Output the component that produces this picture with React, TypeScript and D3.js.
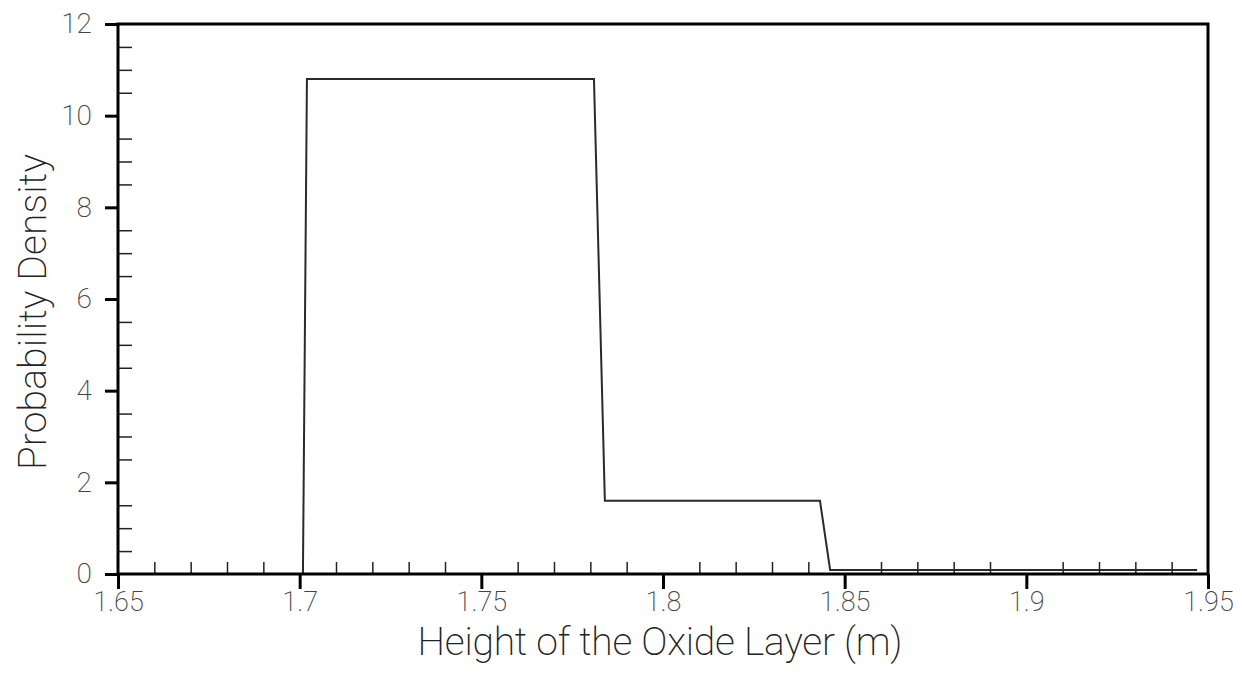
import React, { useRef, useEffect } from 'react';
import * as d3 from 'd3';

// step-shaped density curve
const heights = [1.7009, 1.702, 1.781, 1.784, 1.8432, 1.846, 1.947];
const density = [0, 10.8, 10.8, 1.6, 1.6, 0.09, 0.09];

const xMajor = [1.65, 1.7, 1.75, 1.8, 1.85, 1.9, 1.95];
const xLabels = ['1.65', '1.7', '1.75', '1.8', '1.85', '1.9', '1.95'];
const yMajor = [0, 2, 4, 6, 8, 10, 12];

const FONT = 'Roboto, Inter, sans-serif';

const App = () => {
  const ref = useRef<SVGSVGElement>(null);

  useEffect(() => {
    const svg = d3.select(ref.current);
    svg.selectAll('*').remove();

    const margin = { top: 24, right: 34, bottom: 99, left: 118 };
    const W = 1242, H = 673;
    const width = W - margin.left - margin.right;
    const height = H - margin.top - margin.bottom;

    const g = svg.append('g').attr('transform', `translate(${margin.left},${margin.top})`);

    const x = d3.scaleLinear().domain([1.65, 1.95]).range([0, width]);
    const y = d3.scaleLinear().domain([0, 12]).range([height, 0]);

    const xMinor = d3.range(166, 195).map(d => d / 100).filter(d => Math.round(d * 100) % 5 !== 0);
    const yMinor = d3.range(1, 24).map(d => d / 2).filter(d => d % 2 !== 0);

    const style = (sel: any) => {
      sel.select('.domain').remove();
      sel.selectAll('text')
        .attr('font-family', FONT)
        .attr('font-weight', 200)
        .attr('font-size', 28)
        .attr('fill', '#444');
    };

    // minor ticks pointing inside
    g.append('g')
      .attr('transform', `translate(0,${height})`)
      .call(d3.axisBottom(x).tickValues(xMinor).tickSize(-12).tickFormat(() => ''))
      .call(style)
      .selectAll('line').attr('stroke', '#222').attr('stroke-width', 1.5);

    g.append('g')
      .call(d3.axisLeft(y).tickValues(yMinor).tickSize(-14).tickFormat(() => ''))
      .call(style)
      .selectAll('line').attr('stroke', '#222').attr('stroke-width', 1.5);

    // data line
    const line = d3.line<number>()
      .x((_, i) => x(heights[i]))
      .y(d => y(d));

    g.append('path')
      .datum(density)
      .attr('d', line)
      .attr('fill', 'none')
      .attr('stroke', '#2a2a2a')
      .attr('stroke-width', 2);

    // frame
    g.append('rect')
      .attr('width', width)
      .attr('height', height)
      .attr('fill', 'none')
      .attr('stroke', '#000')
      .attr('stroke-width', 3);

    // major ticks pointing outside, with labels
    const xa = g.append('g')
      .attr('transform', `translate(0,${height})`)
      .call(d3.axisBottom(x).tickValues(xMajor).tickSize(15).tickPadding(3)
        .tickFormat((_, i) => xLabels[i]))
      .call(style);
    xa.selectAll('line').attr('stroke', '#000').attr('stroke-width', 3);
    xa.selectAll('text').attr('font-size', 27);

    const ya = g.append('g')
      .call(d3.axisLeft(y).tickValues(yMajor).tickSize(13).tickPadding(13)
        .tickFormat(d3.format('d')))
      .call(style);
    ya.selectAll('line').attr('stroke', '#000').attr('stroke-width', 3);

    // axis titles
    svg.append('text')
      .attr('x', margin.left + width / 2 - 3)
      .attr('y', 655)
      .attr('text-anchor', 'middle')
      .attr('font-family', FONT)
      .attr('font-weight', 200)
      .attr('font-size', 39)
      .attr('fill', '#222')
      .attr('textLength', 485)
      .attr('lengthAdjust', 'spacing')
      .text('Height of the Oxide Layer (m)');

    svg.append('text')
      .attr('transform', 'translate(46,312) rotate(-90)')
      .attr('text-anchor', 'middle')
      .attr('font-family', FONT)
      .attr('font-weight', 200)
      .attr('font-size', 39)
      .attr('fill', '#222')
      .attr('textLength', 316)
      .attr('lengthAdjust', 'spacing')
      .text('Probability Density');
  }, []);

  return (
    <svg ref={ref} width={1242} height={673}
      style={{ position: 'absolute', left: 0, top: 0, background: '#fff' }} />
  );
};

export default App;
